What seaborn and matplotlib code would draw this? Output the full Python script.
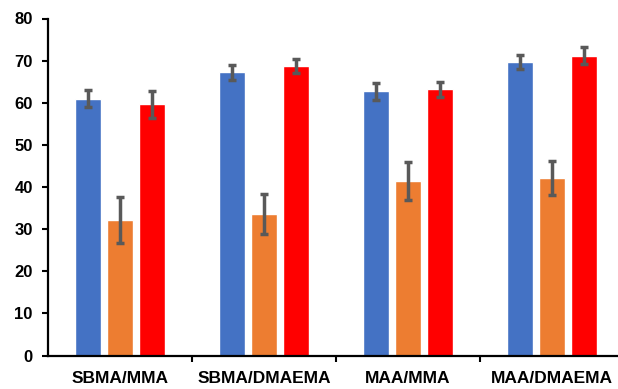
import numpy as np
import pandas as pd
import matplotlib
matplotlib.use('Agg')
import matplotlib.pyplot as plt
import seaborn as sns

# data
groups = ['SBMA/MMA', 'SBMA/DMAEMA', 'MAA/MMA', 'MAA/DMAEMA']
series = ['Series 1', 'Series 2', 'Series 3']
blue_vals = [61.0, 67.2, 62.7, 69.7]
blue_err = [2.0, 1.7, 2.0, 1.6]
orange_vals = [32.2, 33.6, 41.4, 42.1]
orange_err = [5.4, 4.8, 4.5, 4.1]
red_vals = [59.6, 68.7, 63.2, 71.2]
red_err = [3.2, 1.6, 1.8, 2.1]
colors = ['#4472C4', '#ED7D31', '#FF0000']

all_vals = [blue_vals, orange_vals, red_vals]
all_errs = [blue_err, orange_err, red_err]

df = pd.DataFrame({
    'group': groups * 3,
    'series': np.repeat(series, len(groups)),
    'value': blue_vals + orange_vals + red_vals,
})

sns.set_style('white')
plt.rcParams['font.family'] = ['Liberation Sans', 'DejaVu Sans']

fig = plt.figure(figsize=(6.18, 3.89), dpi=100)
ax = fig.add_axes([48/618, 33.5/389, 570/618, 337/389])

sns.barplot(data=df, x='group', y='value', hue='series', palette=colors,
            width=0.667, gap=0.21, errorbar=None, legend=False, ax=ax,
            saturation=1)

# error bars at the centre of each bar
for cont, errs in zip(ax.containers, all_errs):
    xs = [b.get_x() + b.get_width() / 2 for b in cont]
    ys = [b.get_height() for b in cont]
    ax.errorbar(xs, ys, yerr=errs, fmt='none', ecolor='#595959',
                elinewidth=2.5, capsize=2.8, capthick=2.5, zorder=5)

ax.set_ylim(0, 80)
ax.set_yticks(range(0, 81, 10))
ax.set_xlim(-0.5, -0.5 + 570/144)
ax.set_xlabel('')
ax.set_ylabel('')

for s in ['top', 'right']:
    ax.spines[s].set_visible(False)
for s in ['left', 'bottom']:
    ax.spines[s].set_color('black')
    ax.spines[s].set_linewidth(1.6)

ax.tick_params(axis='y', which='major', length=4, width=1.5, color='black',
               pad=7, labelsize=12, left=True)
ax.tick_params(axis='x', which='major', length=0, pad=11, labelsize=12.5)
ax.set_xticks([0.5, 1.5, 2.5], minor=True)
ax.tick_params(axis='x', which='minor', length=4, width=1.5, color='black',
               bottom=True)
for lab in ax.get_xticklabels() + ax.get_yticklabels():
    lab.set_fontweight('bold')
    lab.set_color('black')

plt.savefig('out.png', dpi=100)
